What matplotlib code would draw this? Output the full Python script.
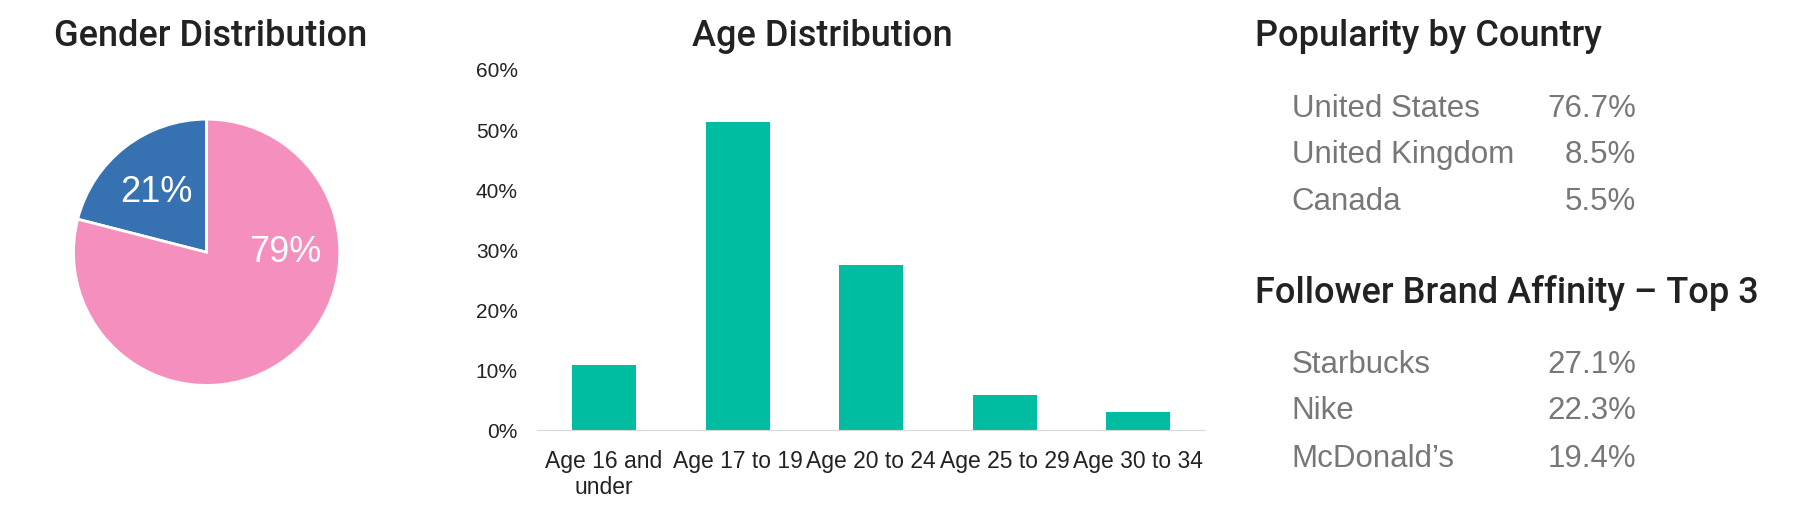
import matplotlib.pyplot as plt

plt.rcParams['font.family'] = ['Liberation Sans', 'DejaVu Sans']

gender_labels = ['21%', '79%']
gender_values = [21, 79]
gender_colors = ['#3672B2', '#F590BE']

age_groups = ['Age 16 and\nunder', 'Age 17 to 19', 'Age 20 to 24', 'Age 25 to 29', 'Age 30 to 34']
age_values = [10.9, 51.4, 27.5, 5.9, 3.1]

countries = ['United States', 'United Kingdom', 'Canada']
country_pct = ['76.7%', '8.5%', '5.5%']
brands = ['Starbucks', 'Nike', "McDonald\u2019s"]
brand_pct = ['27.1%', '22.3%', '19.4%']

fig = plt.figure(figsize=(18, 5.3), dpi=100)
title_kw = dict(fontsize=26, color='#222222', va='center', family=['Roboto', 'DejaVu Sans'], fontweight='medium')

# pie
axp = fig.add_axes([0.0223, 0.21, 0.185, 0.628])
axp.pie(gender_values, colors=gender_colors, startangle=90, counterclock=True,
        wedgeprops=dict(edgecolor='white', linewidth=2), radius=1)
axp.text(-0.38, 0.45, gender_labels[0], color='white', fontsize=26, ha='center', va='center')
axp.text(0.59, 0.0, gender_labels[1], color='white', fontsize=26, ha='center', va='center')
axp.set_aspect('equal')
fig.text(0.117, 0.931, 'Gender Distribution', ha='center', **title_kw)

# bars
axb = fig.add_axes([0.2985, 0.188, 0.371, 0.68])
x = range(len(age_groups))
axb.bar(x, age_values, width=0.48, color='#00BCA0')
axb.set_ylim(0, 60)
axb.set_xlim(-0.5, 4.5)
axb.set_yticks(range(0, 61, 10))
axb.set_yticklabels([f'{v}%' for v in range(0, 61, 10)], fontsize=15, color='#222222')
axb.set_xticks(list(x))
axb.set_xticklabels(age_groups, fontsize=16.5, color='#222222', va='top')
axb.tick_params(length=0, pad=14)
for s in ['top', 'right', 'left']:
    axb.spines[s].set_visible(False)
axb.spines['bottom'].set_color('#d9d9d9')
fig.text(0.457, 0.931, 'Age Distribution', ha='center', **title_kw)

# text panels
fig.text(0.697, 0.931, 'Popularity by Country', ha='left', **title_kw)
for c, p, y in zip(countries, country_pct, [0.794, 0.708, 0.619]):
    fig.text(0.7175, y, c, fontsize=22.5, color='#777777', va='center')
    fig.text(0.909, y, p, fontsize=22.5, color='#777777', va='center', ha='right')

fig.text(0.697, 0.448, 'Follower Brand Affinity \u2013 Top 3', ha='left', **title_kw)
for b, p, y in zip(brands, brand_pct, [0.312, 0.225, 0.134]):
    fig.text(0.7175, y, b, fontsize=22.5, color='#777777', va='center')
    fig.text(0.909, y, p, fontsize=22.5, color='#777777', va='center', ha='right')

fig.savefig('out.png', dpi=100)
